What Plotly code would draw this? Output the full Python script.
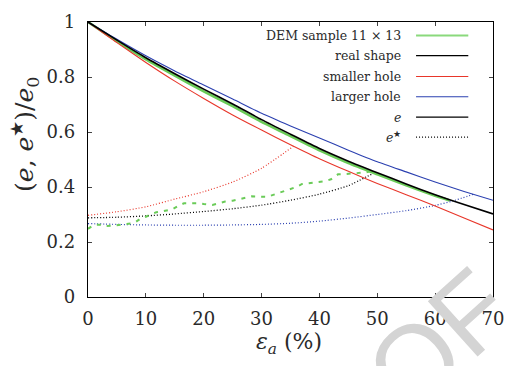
import plotly.graph_objects as go

# ---------------- data ----------------
strain = [0, 5, 10, 15, 20, 25, 30, 35, 40, 45, 50, 55, 60, 65, 70]
e_real = [1.000, 0.934, 0.870, 0.812, 0.756, 0.702, 0.645, 0.592, 0.540, 0.494, 0.452, 0.411, 0.372, 0.336, 0.302]
e_large = [1.000, 0.937, 0.877, 0.822, 0.771, 0.720, 0.668, 0.622, 0.578, 0.534, 0.492, 0.455, 0.418, 0.384, 0.352]
e_small = [1.000, 0.925, 0.853, 0.785, 0.722, 0.662, 0.607, 0.554, 0.503, 0.457, 0.413, 0.372, 0.331, 0.287, 0.244]

strain_dem = [0, 5, 10, 15, 20, 25, 30, 35, 40, 45, 50, 55, 60, 62.5]
e_dem = [1.000, 0.930, 0.864, 0.805, 0.748, 0.694, 0.637, 0.585, 0.533, 0.487, 0.446, 0.406, 0.368, 0.351]

strain_star_small = [0, 5, 10, 15, 20, 25, 30, 35.5]
estar_small = [0.297, 0.310, 0.328, 0.356, 0.383, 0.418, 0.468, 0.548]

strain_star_real = [0, 5, 10, 15, 20, 25, 30, 35, 40, 45, 49.5]
estar_real = [0.288, 0.290, 0.295, 0.302, 0.311, 0.321, 0.334, 0.352, 0.374, 0.405, 0.452]

strain_star_large = [0, 5, 10, 15, 20, 25, 30, 35, 40, 45, 50, 55, 60, 63, 66.7]
estar_large = [0.267, 0.264, 0.262, 0.261, 0.261, 0.262, 0.264, 0.268, 0.276, 0.287, 0.300, 0.314, 0.333, 0.349, 0.374]

strain_star_dem = [0, 1, 2, 3, 4.3, 5.5, 6.5, 7.5, 8.2, 9, 10, 11, 11.8, 13, 14.5, 15.5, 16.6, 17.5,
                   18.9, 20, 21.5, 22.5, 23.7, 25, 26.2, 27.5, 28.3, 29.5, 31, 32.5, 33.8, 35, 36, 37,
                   38.5, 39.8, 41, 42, 43.2, 44.3, 45.4, 46.5, 47.4, 48.5, 49.5]
estar_dem = [0.248, 0.262, 0.263, 0.258, 0.259, 0.262, 0.265, 0.268, 0.272, 0.284, 0.292, 0.300, 0.308,
             0.312, 0.318, 0.330, 0.341, 0.341, 0.341, 0.338, 0.335, 0.340, 0.347, 0.350, 0.355, 0.362,
             0.366, 0.365, 0.364, 0.375, 0.385, 0.392, 0.400, 0.411, 0.414, 0.417, 0.421, 0.428, 0.446,
             0.447, 0.448, 0.450, 0.452, 0.455, 0.458]

x_ticks = [0, 10, 20, 30, 40, 50, 60, 70]
y_ticks = [0, 0.2, 0.4, 0.6, 0.8, 1]
y_ticklabels = ["0", "0.2", "0.4", "0.6", "0.8", "1"]

GREEN = "#6acb58"
RED = "#e8362a"
BLUE = "#2b40b0"
BLACK = "#000000"
DOT = "1px,2px"

legend_entries = [
    ("DEM sample 11 × 13", "#8ad97c", "solid", 2.0),
    ("real shape", BLACK, "solid", 1.3),
    ("smaller hole", RED, "solid", 1.1),
    ("larger hole", BLUE, "solid", 1.1),
    ("<i>e</i>", BLACK, "solid", 1.3),
    ("<i>e</i><sup>★</sup>", BLACK, DOT, 1.2),
]

SERIF = "DejaVu Serif"
TXT = "#2a2a2a"

fig = go.Figure()

def add(x, y, color, width, dash="solid"):
    fig.add_trace(go.Scatter(x=x, y=y, mode="lines", showlegend=False,
                             line=dict(color=color, width=width, dash=dash, shape="spline", smoothing=0.6)))

add(strain_star_small, estar_small, RED, 1.2, DOT)
add(strain_star_large, estar_large, BLUE, 1.2, DOT)
add(strain_star_real, estar_real, BLACK, 1.3, DOT)
fig.add_trace(go.Scatter(x=strain_star_dem, y=estar_dem, mode="lines", showlegend=False,
                         line=dict(color=GREEN, width=2.0, dash="4px,6px")))
add(strain_dem, e_dem, GREEN, 2.6)
add(strain, e_small, RED, 1.1)
add(strain, e_large, BLUE, 1.1)
add(strain, e_real, BLACK, 1.6)

fig.update_layout(
    width=515, height=366,
    margin=dict(l=88, r=13, t=11, b=69),
    paper_bgcolor="white", plot_bgcolor="white",
    font=dict(family=SERIF, color=TXT),
    xaxis=dict(range=[0, 70], tickvals=x_ticks, ticks="inside", ticklen=4, tickwidth=1,
               showline=True, linecolor="black", linewidth=1.3, mirror="ticks",
               ticklabelstandoff=5,
               showgrid=False, zeroline=False, tickfont=dict(size=18, family=SERIF, color=TXT)),
    yaxis=dict(range=[0, 1], tickvals=y_ticks, ticktext=y_ticklabels, ticks="inside", ticklen=4,
               tickwidth=1, showline=True, linecolor="black", linewidth=1.3, mirror="ticks",
               ticklabelstandoff=8,
               showgrid=False, zeroline=False, tickfont=dict(size=18, family=SERIF, color=TXT)),
)

annotations = []
shapes = []
leg_y_px = [25, 46, 67.7, 88.7, 110, 130.7]
for (label, color, dash, w), py in zip(legend_entries, leg_y_px):
    yp = (297 - py) / 286
    annotations.append(dict(xref="paper", yref="paper", x=0.778, y=yp, text=label, showarrow=False,
                            xanchor="right", yanchor="middle", font=dict(size=12.5, family=SERIF, color=TXT)))
    shapes.append(dict(type="line", xref="paper", yref="paper", x0=0.810, x1=0.939, y0=yp, y1=yp,
                       line=dict(color=color, width=w, dash=dash)))

annotations.append(dict(xref="paper", yref="paper", x=(23 - 88) / 414, y=(297 - 128) / 286,
                        text="(<i>e</i>, <i>e</i><sup>★</sup>)/<i>e</i><sub>0</sub>", textangle=-90,
                        showarrow=False, xanchor="center", yanchor="middle",
                        font=dict(size=25, family=SERIF, color=TXT)))
annotations.append(dict(xref="paper", yref="paper", x=(293 - 88) / 414, y=(297 - 345) / 286,
                        text="<i>ε<sub>a</sub></i> (%)", showarrow=False, xanchor="center", yanchor="middle",
                        font=dict(size=22, family=SERIF, color=TXT)))
annotations.append(dict(xref="paper", yref="paper", x=(447 - 88) / 414, y=(297 - 342) / 286,
                        text="OF", textangle=-42, showarrow=False, xanchor="center", yanchor="middle",
                        font=dict(size=108, family="Liberation Sans", color="#d4d4d4")))

fig.update_layout(annotations=annotations, shapes=shapes)
fig.write_html("out.html")
